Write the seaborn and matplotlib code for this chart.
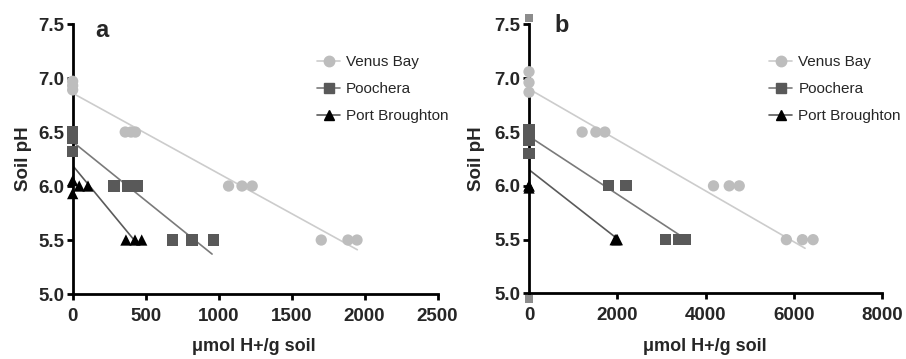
import matplotlib
matplotlib.use('Agg')
import matplotlib.pyplot as plt
import seaborn as sns
import pandas as pd
from matplotlib.lines import Line2D

sns.set_theme(style='ticks')
plt.rcParams['font.family'] = ['Liberation Sans', 'DejaVu Sans']

sites = ["Venus Bay", "Poochera", "Port Broughton"]

# ---- Panel a data ----
a_venus_x = [0, 0, 0, 360, 400, 430, 1068, 1160, 1230, 1703, 1886, 1948]
a_venus_y = [6.97, 6.93, 6.89, 6.5, 6.5, 6.5, 6.0, 6.0, 6.0, 5.5, 5.5, 5.5]
a_pooch_x = [0, 0, 0, 283, 378, 443, 685, 817, 963]
a_pooch_y = [6.5, 6.44, 6.32, 6.0, 6.0, 6.0, 5.5, 5.5, 5.5]
a_port_x = [0, 0, 45, 105, 365, 427, 473]
a_port_y = [6.05, 5.93, 6.0, 6.0, 5.5, 5.5, 5.5]
# fitted lines: x end, y at x=0, y at x end
a_fit_x_end = [1950, 955, 415]
a_fit_y0 = [6.86, 6.41, 6.19]
a_fit_y1 = [5.41, 5.37, 5.51]

# ---- Panel b data ----
b_venus_x = [0, 0, 0, 1203, 1514, 1718, 4177, 4533, 4760, 5827, 6190, 6432]
b_venus_y = [7.06, 6.96, 6.87, 6.5, 6.5, 6.5, 6.0, 6.0, 6.0, 5.5, 5.5, 5.5]
b_pooch_x = [0, 0, 0, 1793, 2195, 3094, 3382, 3548]
b_pooch_y = [6.52, 6.42, 6.3, 6.0, 6.0, 5.5, 5.5, 5.5]
b_port_x = [0, 0, 0, 1950, 1975, 2000]
b_port_y = [6.0, 6.0, 5.98, 5.5, 5.5, 5.5]
b_extra_x = [0, 0]
b_extra_y = [7.56, 4.95]
b_fit_x_end = [6250, 3420, 1963]
b_fit_y0 = [6.90, 6.46, 6.15]
b_fit_y1 = [5.42, 5.54, 5.52]

x_ticks_a = [0, 500, 1000, 1500, 2000, 2500]
x_ticks_b = [0, 2000, 4000, 6000, 8000]
y_ticks = [5.0, 5.5, 6.0, 6.5, 7.0, 7.5]

marker_col = {"Venus Bay": "#bdbdbd", "Poochera": "#595959", "Port Broughton": "#000000"}
line_col = {"Venus Bay": "#cccccc", "Poochera": "#7a7a7a", "Port Broughton": "#5a5a5a"}
markers = {"Venus Bay": "o", "Poochera": "s", "Port Broughton": "^"}


def points_df(xs, ys):
    rows = []
    for site, x, y in zip(sites, xs, ys):
        for xi, yi in zip(x, y):
            rows.append({"site": site, "x": xi, "y": yi})
    return pd.DataFrame(rows)


def fit_df(x_end, y0, y1):
    rows = []
    for site, xe, a, b in zip(sites, x_end, y0, y1):
        rows.append({"site": site, "x": 0, "y": a})
        rows.append({"site": site, "x": xe, "y": b})
    return pd.DataFrame(rows)


fig = plt.figure(figsize=(9.06, 3.59), dpi=100)
ax_a = fig.add_axes([0.0802, 0.181, 0.4028, 0.752])
ax_b = fig.add_axes([0.5839, 0.1825, 0.3900, 0.7495])

panels = [
    (ax_a, [a_venus_x, a_pooch_x, a_port_x], [a_venus_y, a_pooch_y, a_port_y],
     (a_fit_x_end, a_fit_y0, a_fit_y1), x_ticks_a, "a", (0.079, 0.953), 0.670, -0.136),
    (ax_b, [b_venus_x, b_pooch_x, b_port_x], [b_venus_y, b_pooch_y, b_port_y],
     (b_fit_x_end, b_fit_y0, b_fit_y1), x_ticks_b, "b", (0.0925, 0.970), 0.680, -0.148),
]

for ax, xs, ys, fit, xt, letter, lpos, legx, ylx in panels:
    fdf = fit_df(*fit)
    sns.lineplot(data=fdf, x="x", y="y", hue="site", palette=line_col,
                 linewidth=1.2, legend=False, ax=ax, zorder=2)
    pdf = points_df(xs, ys)
    sns.scatterplot(data=pdf, x="x", y="y", hue="site", style="site",
                    palette=marker_col, markers=markers, s=66, linewidth=0,
                    legend=False, ax=ax, zorder=4, clip_on=False)
    ax.set_xlim(xt[0], xt[-1])
    ax.set_ylim(5.0, 7.5)
    ax.set_xticks(xt)
    ax.set_xticklabels([str(v) for v in xt])
    ax.set_yticks(y_ticks)
    ax.set_yticklabels([f"{v:.1f}" for v in y_ticks])
    for sp in ["top", "right"]:
        ax.spines[sp].set_visible(False)
    for sp in ["left", "bottom"]:
        ax.spines[sp].set_linewidth(2.0)
        ax.spines[sp].set_color("black")
    ax.tick_params(axis="both", length=4, width=2.0, color="black",
                   labelsize=13.5)
    ax.tick_params(axis="x", pad=6)
    ax.tick_params(axis="y", pad=2)
    for lab in ax.get_xticklabels() + ax.get_yticklabels():
        lab.set_fontweight("bold")
    ax.set_xlabel("μmol H+/g soil", fontsize=13, fontweight="bold")
    ax.set_ylabel("Soil pH", fontsize=13.5, fontweight="bold")
    ax.xaxis.set_label_coords(0.497, -0.196)
    ax.xaxis.label.set_va("center")
    ax.yaxis.set_label_coords(ylx, 0.5)
    ax.yaxis.label.set_va("center")
    ax.text(lpos[0], lpos[1], letter, transform=ax.transAxes, ha="center",
            va="baseline", fontsize=17, fontweight="bold")
    handles = [Line2D([0], [0], color=line_col[s], lw=1.2, marker=markers[s],
                      markersize=7.5, markerfacecolor=marker_col[s],
                      markeredgecolor=marker_col[s]) for s in sites]
    ax.legend(handles, sites, loc="upper left", bbox_to_anchor=(legx, 0.885),
              frameon=False, fontsize=11, handlelength=1.5, handletextpad=0.4,
              labelspacing=0.85, borderpad=0, borderaxespad=0)

# out-of-range squares in panel b
sns.scatterplot(x=b_extra_x, y=b_extra_y, color="#8c8c8c", marker="s", s=40,
                linewidth=0, ax=ax_b, zorder=4, clip_on=False, legend=False)

fig.savefig("out.png", dpi=100)
